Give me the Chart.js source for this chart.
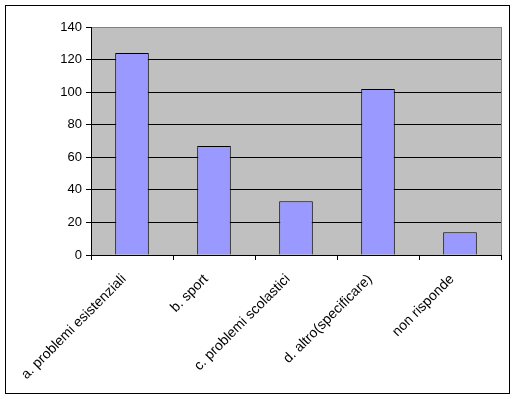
<!DOCTYPE html>
<html>
<head>
<meta charset="utf-8">
<script src="https://cdn.jsdelivr.net/npm/chart.js@4.4.0/dist/chart.umd.min.js"></script>
<style>
html,body{margin:0;padding:0;background:#fff;}
#wrap{position:relative;width:516px;height:397px;}
</style>
</head>
<body>
<div id="wrap"><canvas id="c" width="516" height="397"></canvas></div>
<script>
const categories = ["a. problemi esistenziali", "b. sport", "c. problemi scolastici", "d. altro(specificare)", "non risponde"];
const values = [124, 67, 33, 102, 14];
const yTicks = [0, 20, 40, 60, 80, 100, 120, 140];

const bgPlugin = {
  id: 'bg',
  beforeDraw(chart) {
    const {ctx, chartArea: a} = chart;
    ctx.save();
    ctx.fillStyle = '#fff';
    ctx.fillRect(0, 0, chart.width, chart.height);
    ctx.fillStyle = '#C0C0C0';
    ctx.fillRect(a.left, a.top, a.right - a.left, a.bottom - a.top);
    ctx.strokeStyle = '#808080';
    ctx.lineWidth = 1;
    ctx.strokeRect(a.left + 0.5, a.top + 0.5, a.right - a.left, a.bottom - a.top);
    ctx.restore();
  },
  afterDraw(chart) {
    const ctx = chart.ctx;
    ctx.save();
    ctx.strokeStyle = '#000';
    ctx.lineWidth = 1;
    ctx.strokeRect(5.5, 5.5, 504, 388);
    ctx.restore();
  }
};

new Chart(document.getElementById('c'), {
  type: 'bar',
  data: {
    labels: categories,
    datasets: [{
      data: values,
      backgroundColor: '#9999FF',
      borderColor: '#000',
      borderWidth: 1,
      barPercentage: 0.41,
      categoryPercentage: 1
    }]
  },
  options: {
    responsive: false,
    animation: false,
    events: [],
    layout: {padding: {left: 0, top: 27, right: 15, bottom: 0}},
    plugins: {legend: {display: false}, tooltip: {enabled: false}},
    scales: {
      x: {
        offset: true,
        grid: {offset: true, drawOnChartArea: false, color: '#000', tickLength: 5, tickColor: '#000'},
        border: {color: '#000', width: 1},
        ticks: {
          color: '#000', minRotation: 45, maxRotation: 45, autoSkip: false, padding: 11, labelOffset: -8,
          font: {family: 'Liberation Sans, Arial, sans-serif', size: 14}
        },
        afterFit(s) { s.height = 142; }
      },
      y: {
        min: 0, max: 140,
        afterBuildTicks(s) { s.ticks = yTicks.map(v => ({value: v})); },
        grid: {
          color: ctx => (ctx.tick && (ctx.tick.value === 140 || ctx.tick.value === 0)) ? 'rgba(0,0,0,0)' : '#000',
          tickColor: '#000', tickLength: 5, lineWidth: 1
        },
        border: {color: '#000', width: 1},
        ticks: {
          color: '#000', padding: 4,
          font: {family: 'Liberation Sans, Arial, sans-serif', size: 13}
        },
        afterFit(s) { s.width = 91; }
      }
    }
  },
  plugins: [bgPlugin]
});
</script>
</body>
</html>
